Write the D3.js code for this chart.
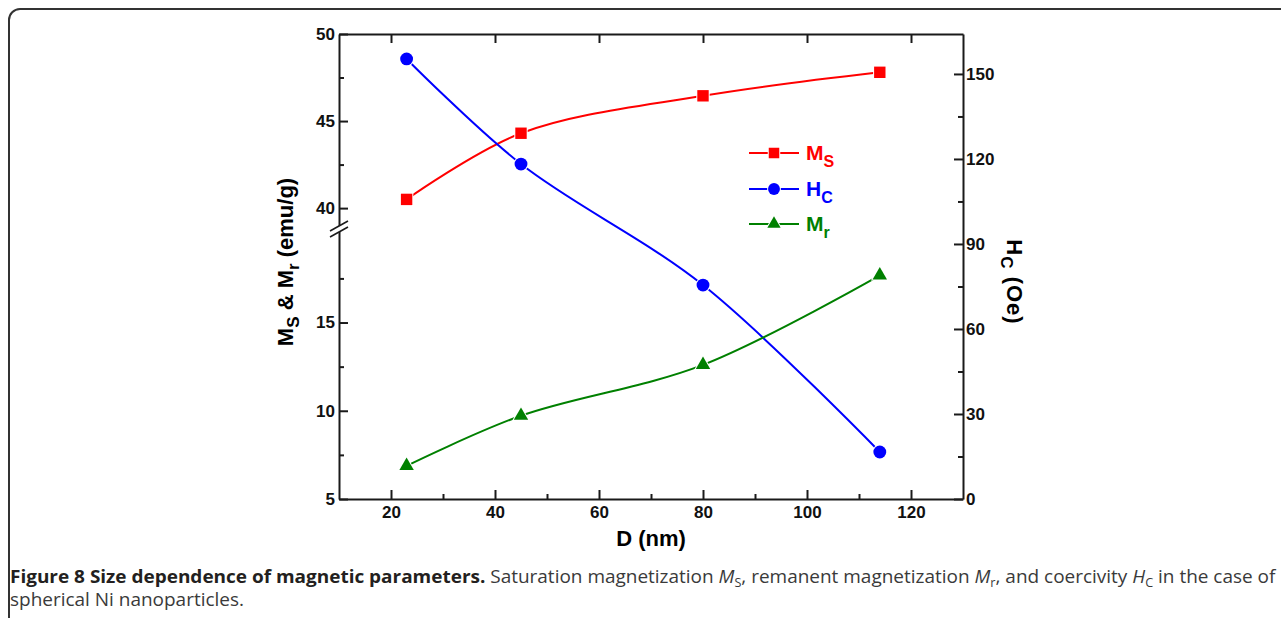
<!DOCTYPE html>
<html>
<head>
<meta charset="utf-8">
<script src="https://cdn.jsdelivr.net/npm/d3@7"></script>
<style>
  body { margin: 0; background: #fff; }
  svg text { font-family: "Liberation Sans", Arial, sans-serif; }
</style>
</head>
<body>
<svg id="chart"></svg>
<script>
// data
const sizes = [23, 45, 80, 114];
const msValues = [40.5, 44.3, 46.45, 47.8];
const hcValues = [155.3, 118.2, 75.5, 16.6];
const mrValues = [6.88, 9.72, 12.6, 17.67];

const xTicks = [20, 40, 60, 80, 100, 120];
const xMinor = [30, 50, 70, 90, 110];
const leftTicksHi = [40, 45, 50];
const leftMinorHi = [42.5, 47.5];
const leftTicksLo = [5, 10, 15];
const leftMinorLo = [7.5, 12.5, 17.5];
const rightTicks = [0, 30, 60, 90, 120, 150];
const rightMinor = [15, 45, 75, 105, 135];

const W = 1281, H = 618;
const svg = d3.select("#chart").attr("width", W).attr("height", H);

// frame
svg.append("rect")
  .attr("x", 9).attr("y", 9)
  .attr("width", W + 20).attr("height", H + 20)
  .attr("rx", 11)
  .attr("fill", "none")
  .attr("stroke", "#333")
  .attr("stroke-width", 2);

const plotL = 339, plotR = 963, plotT = 34, plotB = 499, breakY = 229;

let x = d3.scaleLinear().domain([10, 130]).range([plotL, plotR]);
let yHi = d3.scaleLinear().domain([38.8, 50]).range([breakY, plotT]);
let yLo = d3.scaleLinear().domain([5, 20.3]).range([plotB, breakY]);
let yR = d3.scaleLinear().domain([0, 164.1]).range([plotB, plotT]);

const tickFont = "bold 17px 'Liberation Sans', Arial, sans-serif";

function styleAxis(g) {
  g.selectAll("path, line").attr("stroke", "#1a1a1a").attr("stroke-width", 2);
  g.selectAll("text").style("font", tickFont).attr("fill", "#111");
}

// bottom axis
svg.append("g").attr("transform", `translate(0,${plotB})`)
  .call(d3.axisBottom(x).tickValues(xTicks).tickSizeInner(-9).tickSizeOuter(0).tickPadding(7))
  .call(styleAxis);
svg.append("g").attr("transform", `translate(0,${plotB})`)
  .call(d3.axisBottom(x).tickValues(xMinor).tickSizeInner(-5).tickSizeOuter(0).tickFormat(""))
  .call(styleAxis).select(".domain").remove();

// top axis
svg.append("g").attr("transform", `translate(0,${plotT})`)
  .call(d3.axisTop(x).tickValues(xTicks).tickSizeInner(-9).tickSizeOuter(0).tickFormat(""))
  .call(styleAxis);

// left axis, broken
svg.append("g").attr("transform", `translate(${plotL},0)`)
  .call(d3.axisLeft(yHi).tickValues(leftTicksHi).tickSizeInner(-9).tickSizeOuter(0).tickPadding(4))
  .call(styleAxis);
svg.append("g").attr("transform", `translate(${plotL},0)`)
  .call(d3.axisLeft(yHi).tickValues(leftMinorHi).tickSizeInner(-5).tickSizeOuter(0).tickFormat(""))
  .call(styleAxis).select(".domain").remove();
svg.append("g").attr("transform", `translate(${plotL},0)`)
  .call(d3.axisLeft(yLo).tickValues(leftTicksLo).tickSizeInner(-9).tickSizeOuter(0).tickPadding(4))
  .call(styleAxis);
svg.append("g").attr("transform", `translate(${plotL},0)`)
  .call(d3.axisLeft(yLo).tickValues(leftMinorLo).tickSizeInner(-5).tickSizeOuter(0).tickFormat(""))
  .call(styleAxis).select(".domain").remove();

// break symbol
svg.append("path")
  .attr("d", `M${plotL - 9},${breakY + 2} L${plotL + 9},${breakY - 8} L${plotL + 9},${breakY - 2} L${plotL - 9},${breakY + 8}Z`)
  .attr("fill", "#fff");
[0, 6].forEach(off => {
  svg.append("line")
    .attr("x1", plotL - 9).attr("y1", breakY + 2 + off)
    .attr("x2", plotL + 9).attr("y2", breakY - 8 + off)
    .attr("stroke", "#1a1a1a").attr("stroke-width", 1.6);
});

// right axis
svg.append("g").attr("transform", `translate(${plotR},0)`)
  .call(d3.axisRight(yR).tickValues(rightTicks).tickSizeInner(-9).tickSizeOuter(0).tickPadding(3))
  .call(styleAxis);
svg.append("g").attr("transform", `translate(${plotR},0)`)
  .call(d3.axisRight(yR).tickValues(rightMinor).tickSizeInner(-5).tickSizeOuter(0).tickFormat(""))
  .call(styleAxis).select(".domain").remove();

// axis labels
const lblFont = "bold 22px 'Liberation Sans', Arial, sans-serif";
svg.append("text")
  .attr("x", 651).attr("y", 546)
  .attr("text-anchor", "middle")
  .style("font", lblFont)
  .text("D (nm)");

const yl = svg.append("text")
  .attr("transform", "translate(293,262) rotate(-90)")
  .attr("text-anchor", "middle")
  .style("font", lblFont);
yl.append("tspan").text("M");
yl.append("tspan").attr("dy", 6).style("font-size", "17px").text("S");
yl.append("tspan").attr("dy", -6).text(" & M");
yl.append("tspan").attr("dy", 6).style("font-size", "17px").text("r");
yl.append("tspan").attr("dy", -6).text(" (emu/g)");

const yr = svg.append("text")
  .attr("transform", "translate(1007,282) rotate(90)")
  .attr("text-anchor", "middle")
  .style("font", lblFont)
  .style("letter-spacing", "1px");
yr.append("tspan").text("H");
yr.append("tspan").attr("dy", 6).style("font-size", "17px").text("C");
yr.append("tspan").attr("dy", -6).text(" (Oe)");

// series
const series = [
  { name: "M", sub: "S", color: "#ff0000", values: msValues, y: yHi, symbol: d3.symbolSquare, size: 130 },
  { name: "H", sub: "C", color: "#0000ff", values: hcValues, y: yR, symbol: d3.symbolCircle, size: 130 },
  { name: "M", sub: "r", color: "#008000", values: mrValues, y: yLo, symbol: d3.symbolTriangle, size: 90 }
];

series.forEach(s => {
  const pts = sizes.map((d, i) => [x(d), s.y(s.values[i])]);
  svg.append("path")
    .datum(pts)
    .attr("d", d3.line().curve(d3.curveCatmullRom.alpha(0.5)))
    .attr("fill", "none")
    .attr("stroke", s.color)
    .attr("stroke-width", 2);
  svg.selectAll(null)
    .data(pts)
    .enter()
    .append("path")
    .attr("transform", d => `translate(${d[0]},${d[1]})`)
    .attr("d", d3.symbol().type(s.symbol).size(s.size))
    .attr("fill", s.color)
    .attr("stroke", "#fff")
    .attr("stroke-width", 2)
    .attr("paint-order", "stroke");
});

// legend
const legendY = [153, 189, 224];
series.forEach((s, i) => {
  const g = svg.append("g").attr("transform", `translate(749,${legendY[i]})`);
  g.append("line").attr("x1", 0).attr("x2", 50).attr("stroke", s.color).attr("stroke-width", 2);
  g.append("path")
    .attr("transform", "translate(25,0)")
    .attr("d", d3.symbol().type(s.symbol).size(s.size * 0.85))
    .attr("fill", s.color)
    .attr("stroke", "#fff")
    .attr("stroke-width", 2)
    .attr("paint-order", "stroke");
  const t = g.append("text")
    .attr("x", 57).attr("y", 7)
    .attr("fill", s.color)
    .style("font", "bold 21px 'Liberation Sans', Arial, sans-serif");
  t.append("tspan").text(s.name);
  t.append("tspan").attr("dy", 7).style("font-size", "16px").text(s.sub);
});

// caption
const capFont = "'Open Sans', 'Noto Sans', sans-serif";
const cap1 = svg.append("text")
  .attr("fill", "#231f20")
  .style("font-family", capFont)
  .style("font-size", "18px");
cap1.append("tspan").style("font-weight", "bold").text("Figure 8 Size dependence of magnetic parameters.");
cap1.append("tspan").attr("fill", "#3a3a3a").text(" Saturation magnetization ");
cap1.append("tspan").attr("fill", "#3a3a3a").style("font-style", "italic").text("M");
cap1.append("tspan").attr("fill", "#3a3a3a").style("font-size", "12px").attr("dy", 4).text("S");
cap1.append("tspan").attr("fill", "#3a3a3a").attr("dy", -4).text(", remanent magnetization ");
cap1.append("tspan").attr("fill", "#3a3a3a").style("font-style", "italic").text("M");
cap1.append("tspan").attr("fill", "#3a3a3a").style("font-size", "12px").attr("dy", 4).text("r");
cap1.append("tspan").attr("fill", "#3a3a3a").attr("dy", -4).text(", and coercivity ");
cap1.append("tspan").attr("fill", "#3a3a3a").style("font-style", "italic").text("H");
cap1.append("tspan").attr("fill", "#3a3a3a").style("font-size", "12px").attr("dy", 4).text("C");
cap1.append("tspan").attr("fill", "#3a3a3a").attr("dy", -4).text(" in the case of");
const w1 = cap1.node().getComputedTextLength();
const sx = 1266 / w1;
cap1.attr("transform", `translate(10,583) scale(${sx},1)`);

svg.append("text")
  .attr("fill", "#3a3a3a")
  .style("font-family", capFont)
  .style("font-size", "18px")
  .attr("transform", `translate(10,606) scale(${sx},1)`)
  .text("spherical Ni nanoparticles.");
</script>
</body>
</html>
